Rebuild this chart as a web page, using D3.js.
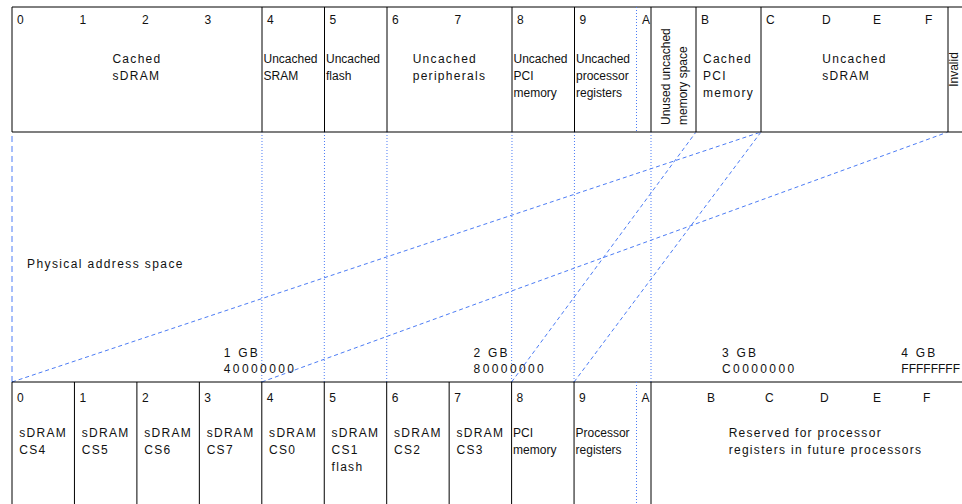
<!DOCTYPE html>
<meta charset="utf-8">
<style>
body { margin: 0; background: #fff; }
svg { display: block; font-family: "Liberation Sans", Arial, sans-serif; font-size: 12px; }
text { fill: #111; }
.edge { stroke: #000; stroke-width: 1; fill: none; }
.rule { stroke: #555; stroke-width: 1.5; }
.map { stroke: #4c7cf5; stroke-width: 1; stroke-dasharray: 4,3; fill: none; }
.same { stroke: #4c7cf5; stroke-width: 1; stroke-dasharray: 1,2; }
.zero { stroke: #4c7cf5; stroke-width: 1; stroke-dasharray: 6,4; }
</style>
<svg width="962" height="504"></svg>
<script src="https://d3js.org/d3.v7.min.js"></script>
<script>

// address units are 0x10000000 (256 MB), so 4 == 1 GB
var hexDigits = ["0","1","2","3","4","5","6","7","8","9","A","B","C","D","E","F"];

// virtual (top) map
var virtStart = [0, 4, 5, 6, 8, 9, 10.25, 11, 12, 16];
var virtEnd   = [4, 5, 6, 8, 9, 10.25, 11, 12, 16, 17];
var virtLabels = [
  ["Cached", "sDRAM"],
  ["Uncached", "SRAM"],
  ["Uncached", "flash"],
  ["Uncached", "peripherals"],
  ["Uncached", "PCI", "memory"],
  ["Uncached", "processor", "registers"],
  ["Unused uncached", "memory space"],
  ["Cached", "PCI", "memory"],
  ["Uncached", "sDRAM"],
  ["Invalid"]
];

// physical (bottom) map
var physStart = [0, 1, 2, 3, 4, 5, 6, 7, 8, 9, 10.25];
var physEnd   = [1, 2, 3, 4, 5, 6, 7, 8, 9, 10.25, 17];
var physLabels = [
  ["sDRAM", "CS4"],
  ["sDRAM", "CS5"],
  ["sDRAM", "CS6"],
  ["sDRAM", "CS7"],
  ["sDRAM", "CS0"],
  ["sDRAM", "CS1", "flash"],
  ["sDRAM", "CS2"],
  ["sDRAM", "CS3"],
  ["PCI", "memory"],
  ["Processor", "registers"],
  ["Reserved for processor", "registers in future processors"]
];

// A starts inside the processor register block (dotted divider)
var splitAt = [10];

// aliases: physical address -> virtual address
var mapPhys = [0, 4, 8, 9];
var mapVirt = [12, 16, 11, 12];

// one-to-one boundaries
var sameAddr = [0, 4, 5, 6, 8, 9, 10.25];

var gbAt = [4, 8, 12, 16];
var gbLabels = ["1 GB", "2 GB", "3 GB", "4 GB"];
var gbHex = ["40000000", "80000000", "C0000000", "FFFFFFFF"];
var spaceTitle = "Physical address space";


var svg = d3.select("svg"),
    width = +svg.attr("width"),
    height = +svg.attr("height");

var topY0 = 7, topY1 = 132, botY0 = 382, botY1 = height;
var lineGap = 17;

// the drawing is not to scale past A, so both scales are piecewise
var xVirt = d3.scaleLinear()
    .domain([0, 10, 10.25, 11, 12, 13, 14, 15, 16, 17])
    .range([12, 637, 651, 696, 761, 817, 868, 920, 948, 959]);

var xPhys = d3.scaleLinear()
    .domain([0, 10, 10.25, 11, 12, 13, 14, 15, 16, 17])
    .range([12, 636.5, 651, 702, 760, 815, 868, 918, 968, 1000]);


// ---- middle: mapping lines
var mid = svg.append("g");

mid.selectAll(".same")
    .data(sameAddr)
  .enter().append("line")
    .attr("class", function(d) { return d === 0 ? "zero" : "same"; })
    .attr("x1", function(d) { return xPhys(d); })
    .attr("y1", botY0)
    .attr("x2", function(d) { return xVirt(d); })
    .attr("y2", topY1);

mid.selectAll(".map")
    .data(mapPhys)
  .enter().append("line")
    .attr("class", "map")
    .attr("x1", function(d) { return xPhys(d); })
    .attr("y1", botY0)
    .attr("x2", function(d, i) { return xVirt(mapVirt[i]); })
    .attr("y2", topY1);

mid.append("text")
    .attr("x", 27)
    .attr("y", 268)
    .attr("letter-spacing", 1.4)
    .text(spaceTitle);

gbAt.forEach(function(a, i) {
  var g = mid.append("g");
  var x = xPhys(a) - 38;
  var t1 = g.append("text").attr("y", 357).attr("letter-spacing", 2.2).text(gbLabels[i]);
  var t2 = g.append("text").attr("y", 373).attr("letter-spacing", 2.4).text(gbHex[i]);
  if (x + t2.node().getBBox().width > width - 2) {
    // no room at the right edge: close the hex digits up
    t2.attr("letter-spacing", 0);
  }
  var w = Math.max(t1.node().getBBox().width, t2.node().getBBox().width);
  x = Math.min(x, width - 2 - w);
  g.selectAll("text").attr("x", x);
});


// ---- cell labels
function cellText(g, x0, x1, lines, yFirst, yTop, yBot) {
  var w = x1 - x0;
  var t = g.selectAll(null)
      .data(lines)
    .enter().append("text")
      .attr("letter-spacing", 1.3)
      .text(function(d) { return d; });

  function widest() {
    var m = 0;
    t.each(function() { m = Math.max(m, this.getBBox().width); });
    return m;
  }

  var bw = widest(), tight = false;
  if (bw > w * 0.81) {
    t.attr("letter-spacing", 0);
    bw = widest();
    tight = true;
  }

  if (bw > w - 2) {
    // too narrow: set the text on its side
    var blockW = (lines.length - 1) * lineGap + 9;
    var bx = x0 + (w - blockW) / 2 + 9;
    var single = lines.length === 1;
    var ya = single ? (yTop + yBot) / 2 : yBot - 7;
    t.attr("text-anchor", single ? "middle" : "start")
     .attr("transform", function(d, i) {
       return "translate(" + (bx + i * lineGap) + "," + ya + ") rotate(-90)";
     });
  } else {
    var bx2 = tight ? x0 + 1.5 : x0 + (w - bw) / 2;
    t.attr("x", bx2)
     .attr("y", function(d, i) { return yFirst + i * lineGap; });
  }
}


// ---- top row (virtual)
var topRow = svg.append("g");

topRow.append("line").attr("class", "edge").attr("stroke", "#444")
    .attr("x1", xVirt(0)).attr("x2", width).attr("y1", topY0).attr("y2", topY0);
topRow.append("line").attr("class", "rule")
    .attr("x1", xVirt(0)).attr("x2", width).attr("y1", topY1).attr("y2", topY1);
topRow.append("line").attr("class", "edge")
    .attr("x1", xVirt(0)).attr("x2", xVirt(0)).attr("y1", topY0).attr("y2", topY1);

topRow.selectAll(".div")
    .data(virtEnd.slice(0, -1))
  .enter().append("line")
    .attr("class", "edge div")
    .attr("x1", function(d) { return xVirt(d); })
    .attr("x2", function(d) { return xVirt(d); })
    .attr("y1", topY0).attr("y2", topY1);

topRow.selectAll(".split")
    .data(splitAt)
  .enter().append("line")
    .attr("class", "same split")
    .attr("x1", function(d) { return xVirt(d) - 0.5; })
    .attr("x2", function(d) { return xVirt(d) - 0.5; })
    .attr("y1", topY0).attr("y2", topY1);

topRow.selectAll(".digit")
    .data(hexDigits)
  .enter().append("text")
    .attr("class", "digit")
    .attr("x", function(d, i) { return xVirt(i) + 5; })
    .attr("y", 24)
    .text(function(d) { return d; });

virtLabels.forEach(function(lines, i) {
  cellText(topRow, xVirt(virtStart[i]), xVirt(virtEnd[i]), lines, 63, topY0, topY1);
});


// ---- bottom row (physical)
var botRow = svg.append("g");

botRow.append("line").attr("class", "edge")
    .attr("x1", xPhys(0)).attr("x2", width).attr("y1", botY0).attr("y2", botY0);
botRow.append("line").attr("class", "edge")
    .attr("x1", xPhys(0)).attr("x2", xPhys(0)).attr("y1", botY0).attr("y2", botY1);

botRow.selectAll(".div")
    .data(physEnd.slice(0, -1))
  .enter().append("line")
    .attr("class", "edge div")
    .attr("x1", function(d) { return xPhys(d); })
    .attr("x2", function(d) { return xPhys(d); })
    .attr("y1", botY0).attr("y2", botY1);

botRow.selectAll(".split")
    .data(splitAt)
  .enter().append("line")
    .attr("class", "same split")
    .attr("x1", function(d) { return xPhys(d); })
    .attr("x2", function(d) { return xPhys(d); })
    .attr("y1", botY0).attr("y2", botY1);

botRow.selectAll(".digit")
    .data(hexDigits)
  .enter().append("text")
    .attr("class", "digit")
    .attr("x", function(d, i) { return xPhys(i) + 5; })
    .attr("y", 402)
    .text(function(d) { return d; });

physLabels.forEach(function(lines, i) {
  cellText(botRow, xPhys(physStart[i]), xPhys(physEnd[i]), lines, 437, botY0, botY1);
});

</script>
